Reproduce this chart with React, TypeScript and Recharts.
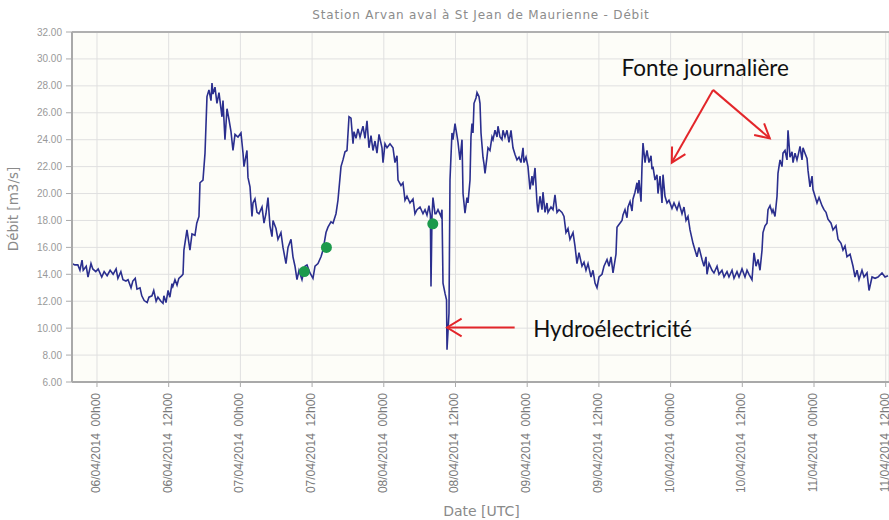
import React from "react";
import {
  LineChart,
  Line,
  XAxis,
  YAxis,
  CartesianGrid,
  ReferenceLine,
  ReferenceDot,
} from "recharts";

// hours since 06/04/2014 00h00 (UTC), discharge in m3/s
const readings: [number, number][] = [
  [-4.2, 14.8], [-3.7, 14.7], [-3.2, 14.7], [-2.85, 14.3], [-2.5, 15.05], [-2.3, 14.3], [-1.8, 14.6], [-1.5, 13.8],
  [-1.0, 14.8], [-0.7, 14.4], [-0.2, 14.2], [0.2, 14.4], [0.8, 13.8], [1.2, 14.2], [1.7, 13.9], [2.2, 14.3],
  [2.7, 14.0], [3.2, 14.4], [3.5, 13.7], [4.0, 14.2], [4.35, 13.6], [4.85, 13.5], [5.2, 13.6], [5.7, 13.0],
  [6.0, 13.5], [6.4, 13.7], [6.7, 12.9], [7.2, 13.0], [7.5, 12.4], [7.9, 12.05], [8.4, 11.9], [8.7, 12.3],
  [9.2, 12.4], [9.5, 12.8], [9.9, 12.0], [10.2, 12.3], [10.7, 12.0], [11.05, 11.85], [11.2, 12.4], [11.55, 11.9],
  [11.9, 12.8], [12.2, 12.3], [12.55, 13.3], [12.7, 13.1], [13.05, 13.6], [13.4, 13.2], [13.7, 13.7], [14.2, 13.9],
  [14.4, 14.0], [14.55, 15.8], [15.06, 17.3], [15.56, 15.8], [15.9, 17.0], [16.4, 16.9], [16.7, 17.8], [17.07, 18.3],
  [17.24, 20.8], [17.74, 21.0], [18.08, 23.0], [18.41, 27.2], [18.74, 27.7], [19.08, 26.9], [19.25, 28.2], [19.41, 27.4],
  [19.75, 27.9], [20.08, 26.7], [20.42, 27.5], [20.92, 25.7], [21.09, 26.9], [21.42, 24.0], [21.76, 26.3], [22.09, 25.5],
  [22.43, 24.6], [22.76, 23.2], [23.1, 24.4], [23.6, 24.2], [24.1, 24.5], [24.44, 23.0], [24.6, 22.0], [25.1, 23.2],
  [25.27, 21.2], [25.61, 20.5], [25.94, 18.3], [26.11, 19.3], [26.44, 19.6], [26.78, 18.6], [27.11, 18.5], [27.62, 19.0],
  [27.95, 17.8], [28.28, 18.5], [28.62, 19.7], [28.95, 17.6], [29.29, 16.8], [29.46, 18.0], [29.96, 17.4], [30.29, 16.6],
  [30.79, 17.1], [31.13, 16.0], [31.63, 14.8], [31.97, 16.0], [32.47, 16.6], [32.8, 15.3], [33.14, 14.6], [33.47, 13.6],
  [33.81, 14.3], [34.31, 13.6], [34.81, 14.6], [35.15, 14.7], [35.65, 14.1], [36.15, 13.7], [36.49, 14.6], [36.99, 14.8],
  [37.49, 15.3], [37.83, 15.8], [38.33, 17.1], [38.66, 17.5], [39.16, 17.9], [39.5, 17.8], [40.0, 18.5], [40.33, 19.5],
  [40.84, 22.0], [41.17, 22.5], [41.51, 23.1], [41.84, 23.2], [42.18, 25.7], [42.51, 25.6], [42.85, 23.7], [43.01, 24.6],
  [43.35, 24.1], [43.68, 24.8], [44.02, 24.2], [44.52, 25.0], [44.85, 24.1], [45.19, 25.4], [45.52, 23.4], [45.86, 24.3],
  [46.19, 23.2], [46.53, 23.9], [46.86, 23.0], [47.2, 24.4], [47.7, 23.4], [47.87, 22.3], [48.2, 23.7], [48.54, 23.4],
  [49.04, 23.7], [49.54, 23.4], [49.87, 22.3], [50.21, 22.8], [50.38, 21.0], [50.88, 20.6], [51.21, 20.8], [51.55, 19.5],
  [51.88, 19.8], [52.38, 19.3], [52.89, 19.6], [53.22, 18.5], [53.56, 18.8], [54.06, 19.0], [54.56, 18.5], [54.9, 18.8],
  [55.23, 18.4], [55.56, 19.1], [55.8, 18.4], [55.9, 13.1], [56.07, 18.3], [56.23, 19.7], [56.57, 18.5], [56.74, 18.5],
  [57.07, 18.8], [57.57, 18.3], [57.74, 18.8], [57.91, 13.35], [58.24, 12.6], [58.5, 12.1], [58.58, 8.4], [58.91, 11.1],
  [59.08, 21.0], [59.41, 24.5], [59.58, 24.0], [59.92, 25.2], [60.25, 24.3], [60.42, 23.8], [60.75, 22.5], [61.09, 24.0],
  [61.26, 20.0], [61.59, 18.55], [61.92, 19.7], [62.09, 19.3], [62.43, 21.0], [62.59, 24.2], [62.76, 25.2], [62.93, 24.5],
  [63.1, 26.7], [63.43, 27.1], [63.6, 27.5], [63.93, 27.2], [64.1, 26.7], [64.27, 24.5], [64.6, 22.7], [64.77, 22.2],
  [64.94, 21.5], [65.27, 22.7], [65.44, 23.4], [65.77, 23.2], [66.11, 24.2], [66.28, 24.0], [66.61, 24.7], [66.95, 24.2],
  [67.11, 25.0], [67.45, 24.2], [67.78, 24.0], [67.95, 24.7], [68.28, 24.2], [68.62, 24.7], [68.95, 23.8], [69.29, 24.7],
  [69.62, 23.4], [69.96, 22.9], [70.29, 22.5], [70.63, 22.7], [70.96, 22.3], [71.3, 23.4], [71.46, 22.3], [71.8, 22.7],
  [72.13, 22.0], [72.47, 20.3], [72.8, 21.3], [72.97, 20.6], [73.31, 21.9], [73.64, 19.3], [73.81, 18.6], [74.14, 19.8],
  [74.48, 18.8], [74.64, 20.1], [74.98, 18.6], [75.31, 19.3], [75.48, 18.6], [75.98, 19.0], [76.32, 18.8], [76.65, 19.9],
  [76.99, 18.6], [77.32, 18.8], [77.82, 18.6], [78.16, 18.3], [78.49, 17.1], [78.83, 17.4], [79.16, 16.6], [79.67, 17.1],
  [80.0, 16.1], [80.33, 14.8], [80.67, 15.6], [81.17, 14.6], [81.51, 14.9], [81.84, 14.3], [82.18, 14.8], [82.68, 13.8],
  [83.01, 14.3], [83.35, 13.35], [83.68, 13.0], [84.02, 13.8], [84.52, 14.0], [84.85, 14.6], [85.36, 15.1], [85.69, 14.6],
  [86.03, 15.3], [86.36, 14.1], [86.86, 15.5], [87.03, 17.5], [87.36, 17.7], [87.87, 18.0], [88.03, 18.4], [88.37, 18.8],
  [88.7, 18.2], [88.87, 19.0], [89.21, 19.4], [89.54, 18.7], [89.71, 19.6], [90.04, 20.1], [90.38, 20.8], [90.54, 20.0],
  [90.71, 21.0], [91.05, 19.4], [91.21, 22.0], [91.38, 23.75], [91.72, 22.3], [91.88, 22.8], [92.05, 23.2], [92.38, 22.3],
  [92.72, 22.8], [92.89, 21.8], [93.05, 22.0], [93.39, 21.0], [93.72, 21.4], [93.89, 20.0], [94.23, 21.3], [94.56, 19.3],
  [94.73, 21.4], [95.06, 19.8], [95.4, 19.3], [95.73, 19.5], [96.23, 18.9], [96.57, 19.3], [97.07, 18.8], [97.41, 19.3],
  [97.91, 18.5], [98.24, 19.0], [98.58, 18.0], [98.91, 18.3], [99.25, 17.3], [99.75, 16.3], [100.08, 15.8], [100.42, 15.3],
  [100.75, 16.0], [101.26, 15.1], [101.59, 14.6], [101.92, 15.3], [102.09, 14.0], [102.43, 14.8], [102.93, 14.3], [103.26, 14.1],
  [103.77, 14.6], [104.1, 14.0], [104.6, 14.3], [104.94, 13.8], [105.44, 14.2], [105.77, 13.8], [106.28, 14.3], [106.61, 13.7],
  [107.11, 14.2], [107.45, 13.8], [107.95, 14.4], [108.45, 13.8], [108.79, 14.3], [109.12, 14.0], [109.62, 13.6], [109.96, 15.6],
  [110.29, 14.6], [110.63, 15.1], [110.96, 14.3], [111.3, 15.8], [111.46, 17.1], [111.8, 17.6], [112.13, 17.8], [112.3, 18.8],
  [112.64, 19.1], [112.97, 18.6], [113.14, 18.8], [113.47, 18.3], [113.81, 19.8], [113.97, 21.5], [114.31, 22.5], [114.64, 22.0],
  [114.81, 23.0], [115.15, 23.2], [115.48, 22.5], [115.65, 24.7], [115.98, 22.7], [116.32, 23.1], [116.49, 22.3], [116.82, 23.0],
  [117.15, 22.5], [117.32, 22.8], [117.66, 23.5], [117.99, 22.5], [118.16, 23.4], [118.49, 23.0], [118.83, 22.6], [119.0, 21.7],
  [119.33, 20.5], [119.67, 21.3], [119.83, 20.3], [120.17, 19.8], [120.5, 19.3], [120.84, 19.7], [121.34, 19.1], [121.67, 18.8],
  [122.01, 18.6], [122.34, 18.1], [122.85, 17.8], [123.18, 17.3], [123.68, 17.6], [124.02, 16.6], [124.52, 16.3], [124.85, 15.8],
  [125.19, 16.1], [125.52, 15.3], [126.03, 15.5], [126.53, 14.6], [126.86, 13.8], [127.2, 14.3], [127.53, 13.6], [128.03, 14.3],
  [128.37, 13.8], [128.87, 14.1], [129.21, 12.8], [129.71, 13.8], [130.21, 13.7], [130.71, 13.8], [131.38, 14.1], [131.88, 13.8],
  [132.38, 13.9],
];

const xTickValues = [0, 12, 24, 36, 48, 60, 72, 84, 96, 108, 120, 132];
const xTickLabels = [
  "06/04/2014  00h00", "06/04/2014  12h00", "07/04/2014  00h00", "07/04/2014  12h00",
  "08/04/2014  00h00", "08/04/2014  12h00", "09/04/2014  00h00", "09/04/2014  12h00",
  "10/04/2014  00h00", "10/04/2014  12h00", "11/04/2014  00h00", "11/04/2014  12h00",
];
const yTickValues = [6, 8, 10, 12, 14, 16, 18, 20, 22, 24, 26, 28, 30, 32];

// green sample markers [hour, m3/s]
const samplePoints: [number, number][] = [
  [34.7, 14.2],
  [38.4, 16.0],
  [56.2, 17.75],
];

// annotation anchors in data space
const fonteLabel = { h: 101.8, v: 29.4, text: "Fonte journalière" };
const fonteArrows = [
  { from: { h: 103.1, v: 27.7 }, to: { h: 96.2, v: 22.3 } },
  { from: { h: 103.1, v: 27.7 }, to: { h: 112.6, v: 24.1 } },
];
const hydroLabel = { h: 73.0, v: 10.0, text: "Hydroélectricité" };
const hydroArrow = { from: { h: 69.9, v: 10.05 }, to: { h: 58.6, v: 10.05 } };

const data = readings.map(([h, v]) => ({ h, v }));

const RED = "#e3262a";
const GRAY = "#8a8a8a";

const arrowShape = (headLen: number, halfAngle: number) => (p: any) => {
  const { x1, y1, x2, y2 } = p;
  const ang = Math.atan2(y2 - y1, x2 - x1);
  const a1 = ang + Math.PI - halfAngle;
  const a2 = ang + Math.PI + halfAngle;
  return (
    <g>
      <line x1={x1} y1={y1} x2={x2} y2={y2} stroke={RED} strokeWidth={2} />
      <polyline
        points={`${x2 + headLen * Math.cos(a1)},${y2 + headLen * Math.sin(a1)} ${x2},${y2} ${x2 + headLen * Math.cos(a2)},${y2 + headLen * Math.sin(a2)}`}
        fill="none"
        stroke={RED}
        strokeWidth={2}
      />
    </g>
  );
};

const XTick = (props: any) => {
  const { x, y, payload } = props;
  const i = xTickValues.indexOf(payload.value);
  const label = i >= 0 ? xTickLabels[i] : "";
  return (
    <g transform={`translate(${x},${y})`}>
      <text
        transform="rotate(-90)"
        x={-4}
        y={0}
        dy={3}
        textAnchor="end"
        fontSize={12}
        fontFamily="Liberation Sans, Arial, sans-serif"
        fill="#7a7a7a"
        style={{ whiteSpace: "pre" }}
      >
        {label}
      </text>
    </g>
  );
};

export default function App() {
  return (
    <div style={{ position: "absolute", left: 0, top: 0, width: 889, height: 520, background: "#fff" }}>
      <div
        style={{
          position: "absolute",
          left: 0,
          width: 962,
          top: 8,
          textAlign: "center",
          fontFamily: "DejaVu Sans, sans-serif",
          fontSize: 12,
          letterSpacing: 0.8,
          color: "#8c8c8c",
          zIndex: 2,
        }}
      >
        Station Arvan aval à St Jean de Maurienne - Débit
      </div>
      <LineChart
        width={889}
        height={520}
        data={data}
        margin={{ top: 32, right: 0, bottom: 0, left: 0 }}
      >
        <CartesianGrid stroke="#e0e0e0" strokeWidth={1} fill="#fdfdf8" />
        <XAxis
          dataKey="h"
          type="number"
          domain={[-4.18, 132.55]}
          ticks={xTickValues}
          allowDataOverflow
          height={138}
          tick={<XTick />}
          tickSize={5}
          tickLine={{ stroke: "#aaaaaa" }}
          axisLine={{ stroke: "#a9a9a9", strokeWidth: 2 }}
          interval={0}
          label={{
            content: (p: any) => {
              const vb = p.viewBox;
              return (
                <text
                  x={vb.x + vb.width / 2 + 1}
                  y={vb.y + vb.height - 4}
                  textAnchor="middle"
                  fontSize={14}
                  fontFamily="DejaVu Sans, sans-serif"
                  fill={GRAY}
                >
                  Date [UTC]
                </text>
              );
            },
          }}
        />
        <YAxis
          type="number"
          domain={[6, 32]}
          ticks={yTickValues}
          allowDataOverflow
          width={72}
          tickFormatter={(v: number) => v.toFixed(2)}
          tick={{ fontSize: 10, fill: "#999999", fontFamily: "Liberation Sans, Arial, sans-serif" }}
          tickSize={6}
          tickMargin={4}
          tickLine={{ stroke: "#aaaaaa" }}
          axisLine={{ stroke: "#a9a9a9", strokeWidth: 2 }}
          interval={0}
          label={{
            content: (p: any) => {
              const vb = p.viewBox;
              const cx = vb.x + 13;
              const cy = vb.y + vb.height / 2 + 2;
              return (
                <text
                  x={cx}
                  y={cy}
                  transform={`rotate(-90, ${cx}, ${cy})`}
                  textAnchor="middle"
                  dominantBaseline="central"
                  fontSize={13.5}
                  fontFamily="DejaVu Sans, sans-serif"
                  fill={GRAY}
                >
                  Débit [m3/s]
                </text>
              );
            },
          }}
        />
        <ReferenceLine y={32} stroke="#b0b0b0" strokeWidth={2} />
        <Line
          type="linear"
          dataKey="v"
          stroke="#2b2f8e"
          strokeWidth={1.6}
          dot={false}
          isAnimationActive={false}
        />
        {samplePoints.map(([h, v], i) => (
          <ReferenceDot key={i} x={h} y={v} r={5.5} fill="#1c9a4c" stroke="none" />
        ))}
        {fonteArrows.map((a, i) => (
          <ReferenceLine
            key={`fa${i}`}
            segment={[{ x: a.from.h, y: a.from.v }, { x: a.to.h, y: a.to.v }]}
            shape={arrowShape(16, 0.5)}
          />
        ))}
        <ReferenceLine
          segment={[{ x: hydroArrow.from.h, y: hydroArrow.from.v }, { x: hydroArrow.to.h, y: hydroArrow.to.v }]}
          shape={arrowShape(17, 0.55)}
        />
        <ReferenceDot
          x={fonteLabel.h}
          y={fonteLabel.v}
          r={1}
          shape={(p: any) => (
            <text
              x={p.cx}
              y={p.cy}
              textAnchor="middle"
              dominantBaseline="central"
              fontSize={22.5}
              fontFamily="Lato, sans-serif"
              fill="#111111"
            >
              {fonteLabel.text}
            </text>
          )}
        />
        <ReferenceDot
          x={hydroLabel.h}
          y={hydroLabel.v}
          r={1}
          shape={(p: any) => (
            <text
              x={p.cx}
              y={p.cy}
              textAnchor="start"
              dominantBaseline="central"
              fontSize={22.5}
              fontFamily="Lato, sans-serif"
              fill="#111111"
            >
              {hydroLabel.text}
            </text>
          )}
        />
      </LineChart>
    </div>
  );
}
